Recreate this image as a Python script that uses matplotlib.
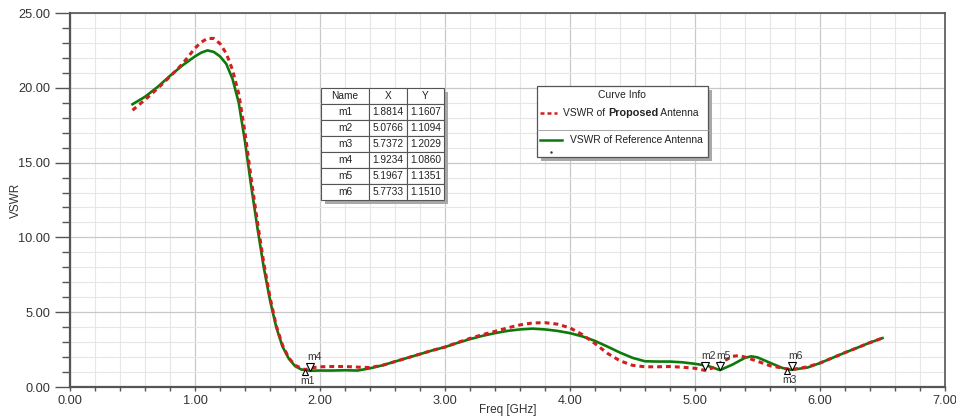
import numpy as np
import matplotlib
matplotlib.use("Agg")
import matplotlib.pyplot as plt
import matplotlib.patches as mpatches
from matplotlib.lines import Line2D
from matplotlib.transforms import offset_copy

plt.rcParams['font.family'] = ['Liberation Sans', 'DejaVu Sans']

# --- data ---
freq_ref = [0.50, 0.60, 0.70, 0.80, 0.90, 1.00, 1.05, 1.10, 1.15, 1.20, 1.25, 1.30,
            1.35, 1.40, 1.45, 1.50, 1.55, 1.60, 1.65, 1.70, 1.75, 1.80, 1.85, 1.92,
            2.00, 2.10, 2.20, 2.30, 2.40, 2.50, 2.60, 2.70, 2.80, 2.90, 3.00, 3.10,
            3.20, 3.30, 3.40, 3.50, 3.60, 3.70, 3.80, 3.90, 4.00, 4.10, 4.20, 4.30,
            4.40, 4.50, 4.60, 4.70, 4.80, 4.90, 5.00, 5.10, 5.20, 5.30, 5.40, 5.45,
            5.50, 5.60, 5.70, 5.77, 5.90, 6.00, 6.10, 6.20, 6.30, 6.40, 6.50]
vswr_ref = [18.9, 19.4, 20.05, 20.8, 21.5, 22.1, 22.35, 22.5, 22.4, 22.1, 21.6, 20.6,
            19.0, 16.4, 13.4, 10.6, 8.0, 5.8, 4.0, 2.7, 1.9, 1.4, 1.17, 1.09,
            1.10, 1.10, 1.12, 1.10, 1.25, 1.45, 1.70, 1.95, 2.20, 2.45, 2.67, 2.95,
            3.20, 3.42, 3.60, 3.75, 3.85, 3.90, 3.85, 3.75, 3.60, 3.38, 3.08, 2.70,
            2.30, 1.95, 1.72, 1.70, 1.70, 1.65, 1.55, 1.42, 1.13, 1.50, 1.95, 2.05,
            1.98, 1.62, 1.27, 1.15, 1.30, 1.60, 1.95, 2.30, 2.63, 2.97, 3.27]

freq_prop = [0.50, 0.60, 0.70, 0.80, 0.90, 1.00, 1.05, 1.10, 1.15, 1.20, 1.25, 1.30,
             1.35, 1.40, 1.45, 1.50, 1.55, 1.60, 1.65, 1.70, 1.75, 1.80, 1.88, 1.95,
             2.00, 2.10, 2.20, 2.30, 2.40, 2.50, 2.60, 2.70, 2.80, 2.90, 3.00, 3.10,
             3.20, 3.30, 3.40, 3.50, 3.60, 3.70, 3.80, 3.90, 4.00, 4.10, 4.20, 4.30,
             4.40, 4.50, 4.60, 4.70, 4.80, 4.90, 5.00, 5.08, 5.15, 5.20, 5.30, 5.35,
             5.40, 5.50, 5.60, 5.74, 5.80, 5.90, 6.00, 6.10, 6.20, 6.30, 6.40, 6.50]
vswr_prop = [18.5, 19.2, 19.95, 20.75, 21.6, 22.65, 23.05, 23.3, 23.3, 22.95, 22.3, 21.2,
             19.6, 17.0, 13.9, 11.0, 8.3, 6.0, 4.1, 2.8, 1.95, 1.45, 1.16, 1.30,
             1.35, 1.37, 1.37, 1.33, 1.30, 1.45, 1.70, 1.95, 2.20, 2.45, 2.67, 2.97,
             3.25, 3.50, 3.72, 3.95, 4.15, 4.28, 4.30, 4.20, 3.95, 3.50, 2.90, 2.25,
             1.75, 1.45, 1.35, 1.35, 1.37, 1.32, 1.25, 1.11, 1.30, 1.60, 2.05, 2.10,
             2.00, 1.72, 1.42, 1.20, 1.20, 1.35, 1.60, 1.95, 2.30, 2.63, 2.97, 3.27]

marker_names = ['m1', 'm2', 'm3', 'm4', 'm5', 'm6']
marker_x = [1.8814, 5.0766, 5.7372, 1.9234, 5.1967, 5.7733]
marker_y = [1.1607, 1.1094, 1.2029, 1.0860, 1.1351, 1.1510]
marker_below = [True, False, True, False, False, False]

red = '#d01f1f'
green = '#0b7a0b'
axis_col = '#555555'

W, H = 956, 416
fig = plt.figure(figsize=(W / 100, H / 100), dpi=100)
ax = fig.add_axes([70 / W, 1 - 387 / H, 875 / W, 374 / H])

ax.set_xlim(0, 7)
ax.set_ylim(0, 25)
ax.set_xticks(np.arange(0, 7.01, 1))
ax.set_xticks(np.arange(0, 7.01, 0.2), minor=True)
ax.set_yticks(np.arange(0, 25.01, 5))
ax.set_yticks(np.arange(0, 25.01, 1), minor=True)
ax.set_xticklabels(['%.2f' % v for v in np.arange(0, 7.01, 1)])
ax.set_yticklabels(['%.2f' % v for v in np.arange(0, 25.01, 5)])

ax.grid(which='major', color='#c9c9c9', linewidth=0.9)
ax.grid(which='minor', color='#e6e6e6', linewidth=0.8)
ax.set_axisbelow(True)

ax.tick_params(axis='y', which='major', direction='out', length=11, width=1,
               color=axis_col, labelsize=9.2, labelcolor='#333333', pad=3.2)
ax.tick_params(axis='y', which='minor', direction='out', length=5.8, width=1, color=axis_col)
ax.tick_params(axis='x', which='both', direction='out', length=3, width=1, color=axis_col)
ax.tick_params(axis='x', which='major', labelsize=9.2, labelcolor='#333333', pad=2.5)

for side in ['left', 'bottom']:
    ax.spines[side].set_color(axis_col)
    ax.spines[side].set_linewidth(1.6)
for side in ['top', 'right']:
    ax.spines[side].set_color(axis_col)
    ax.spines[side].set_linewidth(1.2)

ax.set_xlabel('Freq [GHz]', fontsize=8.5, color='#333333')
ax.set_ylabel('VSWR', fontsize=8.5, color='#333333')
ax.xaxis.set_label_coords(0.5, -0.045)
ax.yaxis.set_label_coords(-0.055, 0.5)

ax.plot(freq_ref, vswr_ref, color=green, linewidth=1.9, zorder=3)
ax.plot(freq_prop, vswr_prop, color=red, linewidth=2.2, linestyle=(0, (1.6, 1.3)), zorder=4)

# markers
for name, mx, my, below in zip(marker_names, marker_x, marker_y, marker_below):
    if below:
        tr = offset_copy(ax.transData, fig=fig, x=0, y=-2, units='dots')
        ax.plot(mx, my, marker='^', markersize=4.5, markerfacecolor='white',
                markeredgecolor='black', markeredgewidth=0.8, transform=tr, zorder=6)
        ax.annotate(name, (mx, my), xytext=(2, -11), textcoords='offset pixels',
                    ha='center', va='center', fontsize=7.5, color='#333333', zorder=6)
    else:
        tr = offset_copy(ax.transData, fig=fig, x=0, y=4, units='dots')
        ax.plot(mx, my, marker='v', markersize=6, markerfacecolor='white',
                markeredgecolor='black', markeredgewidth=0.8, transform=tr, zorder=6)
        ax.annotate(name, (mx, my), xytext=(4, 14), textcoords='offset pixels',
                    ha='center', va='center', fontsize=7.5, color='#333333', zorder=6)


def px_box(x0, y0, x1, y1):
    # pixel box (top-left origin) -> figure fraction rect
    return (x0 / W, 1 - y1 / H), (x1 - x0) / W, (y1 - y0) / H


def fx(px):
    return px / W


def fy(py):
    return 1 - py / H


# marker table
(tx, ty), tw, th = px_box(321, 88, 444, 200)
shadow = mpatches.Rectangle((tx + 4 / W, ty - 4 / H), tw, th, transform=fig.transFigure,
                            facecolor='#a8a8a8', edgecolor='none', zorder=7)
fig.add_artist(shadow)
tab_ax = fig.add_axes([tx, ty, tw, th], zorder=8)
tab_ax.set_axis_off()
cell_text = [[n, '%.4f' % x, '%.4f' % y] for n, x, y in zip(marker_names, marker_x, marker_y)]
tab = tab_ax.table(cellText=cell_text, colLabels=['Name', 'X', 'Y'],
                   colWidths=[48 / 123, 38 / 123, 37 / 123], bbox=[0, 0, 1, 1],
                   cellLoc='center')
tab.auto_set_font_size(False)
tab.set_fontsize(7.3)
for key, cell in tab.get_celld().items():
    cell.set_edgecolor('#555555')
    cell.set_linewidth(0.8)
    cell.set_facecolor('white')
    cell.get_text().set_color('#222222')
    cell.PAD = 0.04

# legend box
(lx, ly), lw, lh = px_box(537, 86, 708, 157)
fig.add_artist(mpatches.Rectangle((lx + 4 / W, ly - 4 / H), lw, lh, transform=fig.transFigure,
                                  facecolor='#a8a8a8', edgecolor='none', zorder=7))
fig.add_artist(mpatches.Rectangle((lx, ly), lw, lh, transform=fig.transFigure,
                                  facecolor='white', edgecolor='#555555', linewidth=0.9,
                                  zorder=8))
fig.add_artist(Line2D([fx(537), fx(708)], [fy(130), fy(130)], transform=fig.transFigure,
                      color='#999999', linewidth=0.6, zorder=9))
fig.text(fx(622), fy(95), 'Curve Info', fontsize=7.5, ha='center', va='center',
         color='#222222', zorder=9)
fig.add_artist(Line2D([fx(540), fx(557)], [fy(113), fy(113)], transform=fig.transFigure,
                      color=red, linewidth=1.8, linestyle=(0, (1.6, 1.2)), zorder=9))
fig.add_artist(Line2D([fx(540), fx(562)], [fy(140), fy(140)], transform=fig.transFigure,
                      color=green, linewidth=1.8, zorder=9))
fig.add_artist(Line2D([fx(551)], [fy(152)], transform=fig.transFigure, marker='.',
                      markersize=1.5, color='#333333', zorder=9))

renderer = fig.canvas.get_renderer()
pieces = [('VSWR of ', 'normal', 7.4), ('Proposed', 'bold', 7.8), (' Antenna', 'normal', 7.4)]
cur = fx(563)
for txt, wt, fs in pieces:
    t = fig.text(cur, fy(113), txt, fontsize=fs, fontweight=wt, ha='left', va='center',
                 color='#222222', zorder=9)
    bb = t.get_window_extent(renderer=renderer)
    cur += bb.width / W
fig.text(fx(570), fy(140), 'VSWR of Reference Antenna', fontsize=7.4, ha='left', va='center',
         color='#222222', zorder=9)

fig.savefig('out.png', dpi=100)
